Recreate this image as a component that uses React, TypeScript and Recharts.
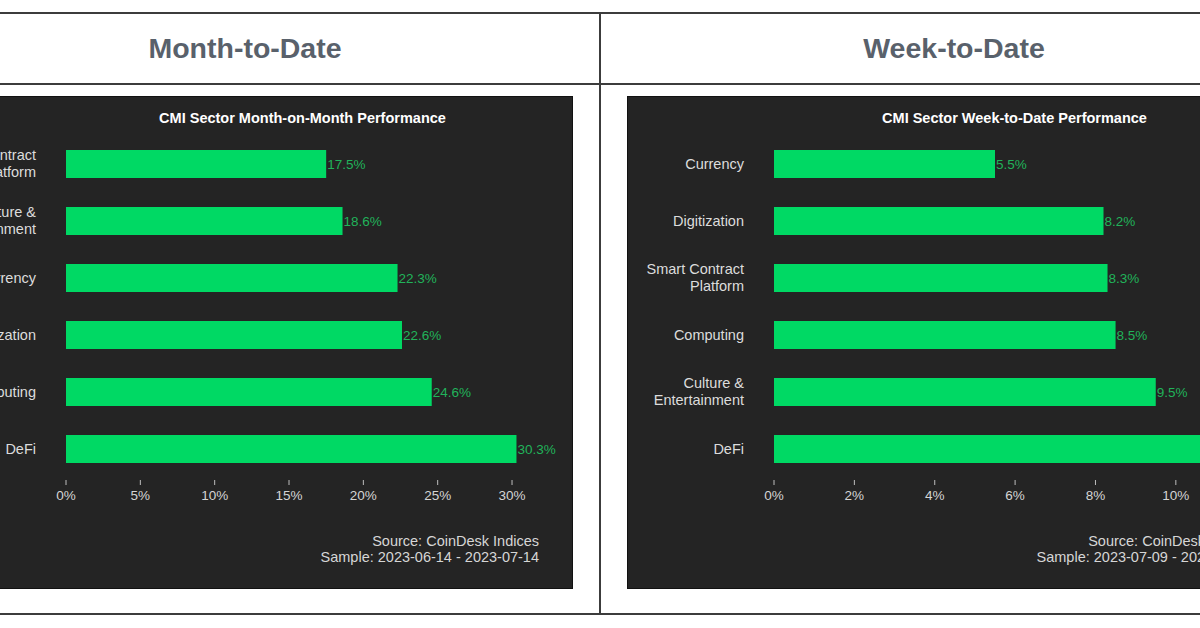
import { BarChart, Bar, XAxis, YAxis, LabelList } from 'recharts'

const monthSectors = ['Smart Contract Platform', 'Culture & Entertainment', 'Currency', 'Digitization', 'Computing', 'DeFi']
const monthValues = [17.5, 18.6, 22.3, 22.6, 24.6, 30.3]
const monthTicks = [0, 5, 10, 15, 20, 25, 30]

const weekSectors = ['Currency', 'Digitization', 'Smart Contract Platform', 'Computing', 'Culture & Entertainment', 'DeFi']
const weekValues = [5.5, 8.2, 8.3, 8.5, 9.5, 11.4]
const weekTicks = [0, 2, 4, 6, 8, 10]

const FONT = '"Liberation Sans", Arial, Helvetica, sans-serif'
const PANEL_W = 652
const PANEL_H = 491
const AXIS_W = 146

// break long sector names into two lines like the original
const wrapLabel = (name: string) => {
  const words = name.split(' ')
  const lines: string[] = []
  let cur = ''
  words.forEach((w) => {
    const next = cur ? cur + ' ' + w : w
    if (next.length > 14 && cur) {
      lines.push(cur)
      cur = w
    } else {
      cur = next
    }
  })
  if (cur) lines.push(cur)
  return lines
}

const CategoryTick = (props: any) => {
  const { x, y, payload } = props
  const lines = wrapLabel(String(payload.value))
  const lh = 16.5
  const start = y - ((lines.length - 1) * lh) / 2
  return (
    <text x={x} y={start} textAnchor="end" fill="#dcdcdc" fontSize={14.5} fontFamily={FONT}>
      {lines.map((l, i) => (
        <tspan key={i} x={x} y={start + i * lh} dy="0.35em">
          {l}
        </tspan>
      ))}
    </text>
  )
}

const PercentTick = (props: any) => {
  const { x, y, payload } = props
  return (
    <g>
      <line x1={x} x2={x} y1={y + 3} y2={y + 8} stroke="#bdbdbd" strokeWidth={1} />
      <text x={x} y={y + 18} dy="0.35em" textAnchor="middle" fill="#d4d4d4" fontSize={13.5} fontFamily={FONT}>
        {payload.value}%
      </text>
    </g>
  )
}

interface SectorChartProps {
  title: string
  sectors: string[]
  values: number[]
  ticks: number[]
  rightMargin: number
  sample: string
}

function SectorChart({ title, sectors, values, ticks, rightMargin, sample }: SectorChartProps) {
  const data = sectors.map((name, i) => ({ name, value: values[i] }))
  const plotW = PANEL_W - AXIS_W - rightMargin

  return (
    <div
      style={{
        position: 'relative',
        width: PANEL_W,
        height: PANEL_H,
        background: '#242424',
        boxShadow: '0 0 0 1px #111',
      }}
    >
      <BarChart
        width={PANEL_W}
        height={PANEL_H}
        data={data}
        layout="vertical"
        margin={{ top: 38, right: rightMargin, bottom: 81, left: 0 }}
      >
        <XAxis
          type="number"
          domain={[0, (dataMax: number) => dataMax * 1.05]}
          ticks={ticks}
          axisLine={false}
          tickLine={false}
          tickSize={0}
          tickMargin={0}
          height={30}
          interval={0}
          tick={<PercentTick />}
        />
        <YAxis
          type="category"
          dataKey="name"
          width={AXIS_W}
          axisLine={false}
          tickLine={false}
          tickSize={0}
          tickMargin={30}
          interval={0}
          tick={<CategoryTick />}
        />
        <Bar dataKey="value" fill="#00d964" barSize={28} isAnimationActive={false}>
          <LabelList
            dataKey="value"
            position="right"
            offset={1}
            formatter={(v: any) => `${v}%`}
            fill="#21b35a"
            fontSize={13.5}
            fontFamily={FONT}
          />
        </Bar>
      </BarChart>
      <div
        style={{
          position: 'absolute',
          left: AXIS_W,
          width: plotW,
          top: 13,
          lineHeight: '17px',
          textAlign: 'center',
          color: '#ffffff',
          fontWeight: 'bold',
          fontSize: 14.5,
          fontFamily: FONT,
          whiteSpace: 'nowrap',
        }}
      >
        {title}
      </div>
      <div
        style={{
          position: 'absolute',
          right: rightMargin,
          top: 436,
          lineHeight: '16px',
          textAlign: 'right',
          color: '#d6d6d6',
          fontSize: 14.5,
          fontFamily: FONT,
          whiteSpace: 'nowrap',
        }}
      >
        <div>Source: CoinDesk Indices</div>
        <div>{sample}</div>
      </div>
    </div>
  )
}

const hLine = (top: number) => (
  <div style={{ position: 'absolute', left: 0, width: 1200, top, height: 2, background: '#3c3c3c' }} />
)

export default function App() {
  return (
    <div
      style={{
        position: 'absolute',
        left: 0,
        top: 0,
        width: 1200,
        height: 628,
        overflow: 'hidden',
        background: '#ffffff',
        fontFamily: FONT,
      }}
    >
      {hLine(12)}
      {hLine(83)}
      {hLine(613)}
      <div style={{ position: 'absolute', left: 599, top: 12, width: 2, height: 603, background: '#3c3c3c' }} />

      <div
        style={{
          position: 'absolute',
          left: -110,
          width: 710,
          top: 14,
          height: 69,
          display: 'flex',
          alignItems: 'center',
          justifyContent: 'center',
          color: '#59616b',
          fontWeight: 'bold',
          fontSize: 28.5,
        }}
      >
        Month-to-Date
      </div>
      <div
        style={{
          position: 'absolute',
          left: 600,
          width: 708,
          top: 14,
          height: 69,
          display: 'flex',
          alignItems: 'center',
          justifyContent: 'center',
          color: '#59616b',
          fontWeight: 'bold',
          fontSize: 28.5,
        }}
      >
        Week-to-Date
      </div>

      <div style={{ position: 'absolute', left: -80, top: 97 }}>
        <SectorChart
          title="CMI Sector Month-on-Month Performance"
          sectors={monthSectors}
          values={monthValues}
          ticks={monthTicks}
          rightMargin={33}
          sample="Sample: 2023-06-14 - 2023-07-14"
        />
      </div>
      <div style={{ position: 'absolute', left: 628, top: 97 }}>
        <SectorChart
          title="CMI Sector Week-to-Date Performance"
          sectors={weekSectors}
          values={weekValues}
          ticks={weekTicks}
          rightMargin={25}
          sample="Sample: 2023-07-09 - 2023-07-14"
        />
      </div>
    </div>
  )
}
